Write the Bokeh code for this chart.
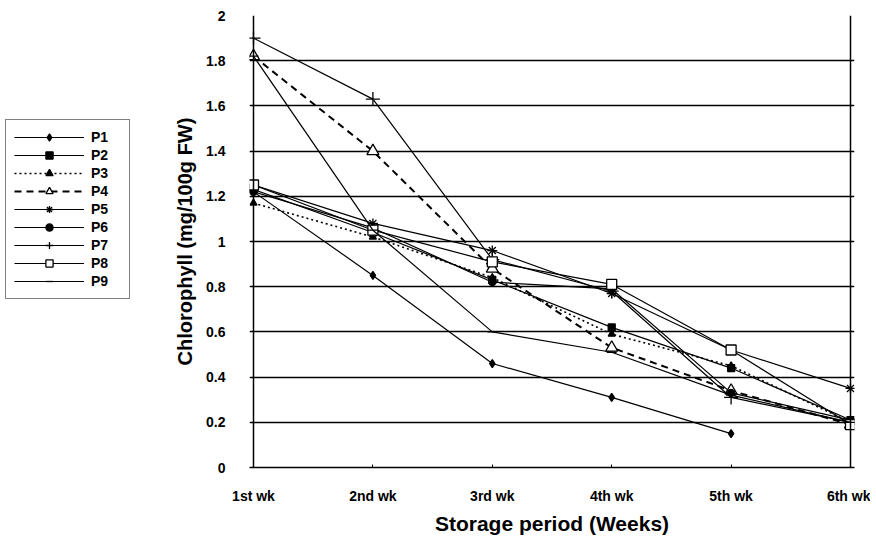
from bokeh.plotting import figure
from bokeh.layouts import row
from bokeh.models import Range1d, FixedTicker, Span
from bokeh.embed import file_html
from bokeh.resources import INLINE

NaN = float("nan")

weeks = ["1st wk", "2nd wk", "3rd wk", "4th wk", "5th wk", "6th wk"]
P1 = [1.22, 0.85, 0.46, 0.31, 0.15, NaN]
P2 = [1.23, 1.04, 0.83, 0.62, 0.44, 0.21]
P3 = [1.17, 1.02, 0.84, 0.59, 0.45, 0.20]
P4 = [1.82, 1.40, 0.88, 0.53, 0.34, 0.19]
P5 = [1.25, 1.08, 0.96, 0.77, 0.52, 0.35]
P6 = [1.22, 1.06, 0.82, 0.79, 0.33, 0.21]
P7 = [1.90, 1.63, 0.92, 0.78, 0.31, 0.20]
P8 = [1.25, 1.05, 0.91, 0.81, 0.52, 0.19]
P9 = [1.82, 1.05, 0.60, 0.51, 0.32, 0.20]
series_names = ["P1", "P2", "P3", "P4", "P5", "P6", "P7", "P8", "P9"]
series_values = [P1, P2, P3, P4, P5, P6, P7, P8, P9]

y_ticks = [0, 0.2, 0.4, 0.6, 0.8, 1, 1.2, 1.4, 1.6, 1.8, 2]
y_tick_labels = ["0", "0.2", "0.4", "0.6", "0.8", "1", "1.2", "1.4", "1.6", "1.8", "2"]

FONT = "Liberation Sans"

styles = {
    "P1": dict(marker="diamond", size=8, fill="black", dash="solid", lw=1.2),
    "P2": dict(marker="square", size=7, fill="black", dash="solid", lw=1.2),
    "P3": dict(marker="triangle", size=7, fill="black", dash="2 3", lw=1.6),
    "P4": dict(marker="triangle", size=12, fill="white", dash="7 5", lw=2.0),
    "P5": dict(marker="asterisk", size=10, fill="black", dash="solid", lw=1.2),
    "P6": dict(marker="circle", size=7, fill="black", dash="solid", lw=1.2),
    "P7": dict(marker="cross", size=14, fill="black", dash="solid", lw=1.2),
    "P8": dict(marker="square", size=10, fill="white", dash="solid", lw=1.2),
    "P9": dict(marker="dash", size=10, fill="black", dash="solid", lw=1.2),
}

LEG_W = 170
TOTAL_W, TOTAL_H = 870, 540

# ---------------- main chart ----------------
x = list(range(len(weeks)))
pad = 0.0335

p = figure(width=TOTAL_W - LEG_W, height=TOTAL_H, output_backend="svg", toolbar_location=None,
           x_range=Range1d(-pad, len(weeks) - 1 + pad), y_range=Range1d(0, 2),
           min_border_left=249 - LEG_W, min_border_right=TOTAL_W - 854, min_border_top=15,
           min_border_bottom=TOTAL_H - 467)
p.outline_line_color = None
p.background_fill_color = "white"
p.border_fill_color = "white"

for name, vals in zip(series_names, series_values):
    s = styles[name]
    p.line(x, vals, line_color="black", line_width=s["lw"], line_dash=s["dash"])
    p.scatter(x, vals, marker=s["marker"], size=s["size"], line_color="black",
              fill_color=s["fill"], line_width=1.3)

p.xgrid.grid_line_color = None
p.ygrid.ticker = FixedTicker(ticks=y_ticks)
p.ygrid.grid_line_color = "black"
p.ygrid.grid_line_width = 1.3

p.add_layout(Span(location=0, dimension="height", line_color="black", line_width=1.5))
p.add_layout(Span(location=len(weeks) - 1, dimension="height", line_color="black", line_width=1.5))

ya = p.yaxis[0]
ya.ticker = FixedTicker(ticks=y_ticks)
ya.major_label_overrides = dict(zip(y_ticks, y_tick_labels))
ya.axis_line_color = None
ya.major_tick_line_color = None
ya.major_tick_out = 0
ya.major_tick_in = 0
ya.minor_tick_line_color = None
ya.major_label_text_font = FONT
ya.major_label_text_font_style = "bold"
ya.major_label_text_font_size = "14px"
ya.major_label_text_color = "black"
ya.major_label_standoff = 24
ya.axis_label = "Chlorophyll (mg/100g FW)"
ya.axis_label_text_font = FONT
ya.axis_label_text_font_style = "bold"
ya.axis_label_text_font_size = "20px"
ya.axis_label_text_color = "black"
ya.axis_label_standoff = 7

xa = p.xaxis[0]
xa.ticker = FixedTicker(ticks=x)
xa.major_label_overrides = dict(zip(x, weeks))
xa.axis_line_color = "black"
xa.axis_line_width = 1.5
xa.major_tick_line_color = "black"
xa.major_tick_in = 3
xa.major_tick_out = 0
xa.minor_tick_line_color = None
xa.major_label_text_font = FONT
xa.major_label_text_font_style = "bold"
xa.major_label_text_font_size = "14px"
xa.major_label_text_color = "black"
xa.major_label_standoff = 20
xa.axis_label = "Storage period (Weeks)"
xa.axis_label_text_font = FONT
xa.axis_label_text_font_style = "bold"
xa.axis_label_text_font_size = "21px"
xa.axis_label_text_color = "black"
xa.axis_label_standoff = 5

# ---------------- legend panel ----------------
lp = figure(width=LEG_W, height=TOTAL_H, output_backend="svg", toolbar_location=None,
            x_range=Range1d(-100, -99), y_range=Range1d(-100, -99),
            min_border=0, x_axis_location=None, y_axis_location=None)
lp.outline_line_color = None
lp.grid.grid_line_color = None
lp.background_fill_color = "white"
lp.border_fill_color = "white"

for name, vals in zip(series_names, series_values):
    s = styles[name]
    lp.line(x, vals, line_color="black", line_width=s["lw"], line_dash=s["dash"],
            legend_label=name)
    lp.scatter(x, vals, marker=s["marker"], size=s["size"], line_color="black",
               fill_color=s["fill"], line_width=1.3, legend_label=name)

lg = lp.legend[0]
lg.location = (5, 168)
lg.border_line_color = "black"
lg.border_line_width = 1.2
lg.background_fill_color = "white"
lg.background_fill_alpha = 1
lg.label_text_font = FONT
lg.label_text_font_style = "bold"
lg.label_text_font_size = "14px"
lg.label_text_color = "black"
lg.glyph_width = 70
lg.glyph_height = 18
lg.label_height = 18
lg.label_width = 30
lg.label_standoff = 7
lg.spacing = 0
lg.padding = 8
lg.margin = 0

layout = row(lp, p, spacing=0)
open("out.html", "w").write(file_html(layout, INLINE))
